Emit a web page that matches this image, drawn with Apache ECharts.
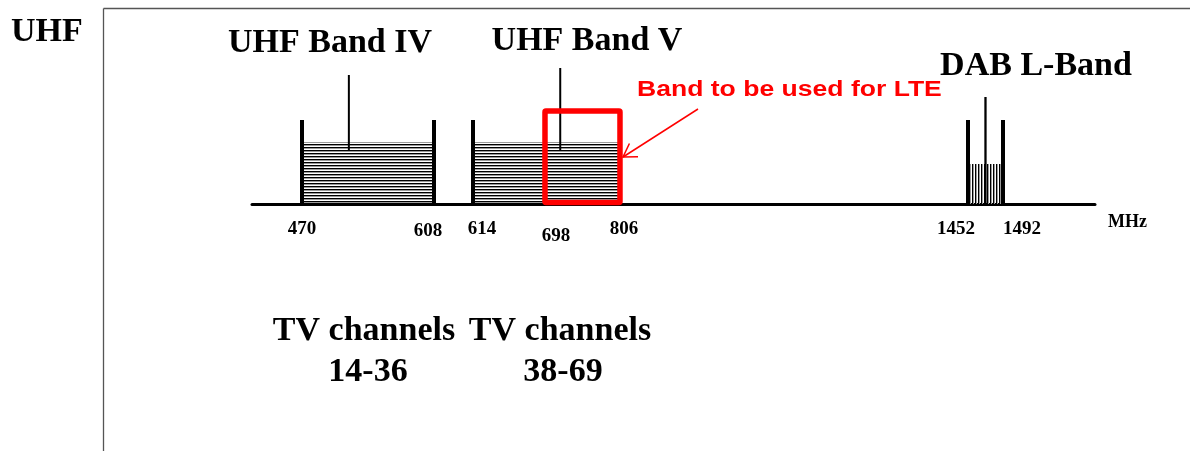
<!DOCTYPE html>
<html><head><meta charset="utf-8">
<script src="https://cdn.jsdelivr.net/npm/echarts@6/dist/echarts.min.js"></script>
<style>html,body{margin:0;padding:0;background:#fff}#c{width:1190px;height:451px}</style>
</head><body><div id="c"></div>
<script>
// ================= DATA =================
const sideTitle = 'UHF';
const axisUnit = 'MHz';
const tickValues = [470, 608, 614, 698, 806, 1452, 1492];
const bandNames = ['UHF Band IV', 'UHF Band V', 'DAB L-Band'];
const bandStart = [470, 614, 1452];
const bandEnd = [608, 806, 1492];
const bandHatchHeight = [62, 62, 40];          // schematic heights
const edgeFreq = [470, 608, 614, 1452, 1492];
const edgeHeight = [84, 84, 84, 84, 84];
const dabCentreFreq = [1472];
const dabCentreHeight = [107];
const pointerFreq = [519, 718];
const pointerLow = [54, 54];
const pointerHigh = [129, 136];
const lteStart = [698];
const lteEnd = [806];
const lteHeight = [93];
const lteLabel = 'Band to be used for LTE';
const channelTitles = ['TV channels', 'TV channels'];
const channelRanges = ['14-36', '38-69'];

// ================= STYLE / LAYOUT =================
const SERIF = '"Liberation Serif","Times New Roman",serif';
const SANS = '"Liberation Sans",Arial,sans-serif';
function makePattern(vertical) {
  const c = document.createElement('canvas');
  c.width = 3; c.height = 3;
  const g = c.getContext('2d');
  g.fillStyle = '#000';
  if (vertical) g.fillRect(0, 0, 1, 3); else g.fillRect(0, 0, 3, 1);
  g.fillStyle = '#9a9a9a';
  if (vertical) g.fillRect(1, 0, 1, 3); else g.fillRect(0, 1, 3, 1);
  return { image: c, repeat: 'repeat' };
}
const hatchStyle = [makePattern(false), makePattern(false), makePattern(true)];
// schematic (not-to-scale) axis: compress / stretch ranges
const axisBreaks = [
  { start: 608, end: 614, gap: 40.77 },
  { start: 620, end: 698, gap: 69.27 },
  { start: 704, end: 806, gap: 72.41 },
  { start: 812, end: 1446, gap: 351.82 },
  { start: 1456, end: 1488, gap: 28.59 }
];
const labelNudge = { 470: [0, 0], 608: [-6, 2], 614: [9, 0], 698: [11, 7], 806: [4, 0], 1452: [-12, 0], 1492: [19, 0] };
const rich = {};
tickValues.forEach((v, i) => {
  const [dx, dy] = labelNudge[v] || [0, 0];
  rich['t' + i] = {
    fontFamily: SERIF, fontWeight: 'bold', fontSize: 19, color: '#000',
    padding: [dy, dx < 0 ? -2 * dx : 0, 0, dx > 0 ? 2 * dx : 0]
  };
});

const chart = echarts.init(document.getElementById('c'), null, { renderer: 'canvas' });

function vline(api, f, h, w) {
  const p0 = api.coord([f, 0]), p1 = api.coord([f, h]);
  return { type: 'line', shape: { x1: p0[0], y1: p0[1], x2: p1[0], y2: p1[1] },
    style: { stroke: '#000', lineWidth: w } };
}

// arrow (annotation)
const aS = [698, 109], aE = [623, 157];
const ang = Math.atan2(aS[1] - aE[1], aS[0] - aE[0]);
const armLen = 15, armA = 32 * Math.PI / 180;
const arm1 = [aE[0] + armLen * Math.cos(ang + armA), aE[1] + armLen * Math.sin(ang + armA)];
const arm2 = [aE[0] + armLen * Math.cos(ang - armA), aE[1] + armLen * Math.sin(ang - armA)];

chart.setOption({
  animation: false,
  backgroundColor: '#fff',
  grid: { left: 252, right: 95, top: 4, bottom: 247, containLabel: false, outerBoundsMode: 'none' },
  xAxis: [{
    type: 'value', min: 417.73, max: 1588.2, position: 'bottom',
    breaks: axisBreaks,
    breakArea: { show: false },
    axisLine: { show: false },
    axisTick: { show: false },
    splitLine: { show: false },
    axisLabel: {
      customValues: tickValues, margin: 16,
      formatter: (v) => '{t' + tickValues.indexOf(v) + '|' + v + '}',
      rich: rich
    }
  }, {
    // continuous base line of the schematic axis
    type: 'value', min: 0, max: 1, position: 'bottom', offset: 0,
    axisLine: { show: true, onZero: false, lineStyle: { color: '#000', width: 3 } },
    axisTick: { show: false }, axisLabel: { show: false }, splitLine: { show: false },
    name: axisUnit, nameLocation: 'end', nameGap: 13,
    nameTextStyle: { fontFamily: SERIF, fontWeight: 'bold', fontSize: 18, color: '#000', verticalAlign: 'top', padding: [9, 0, 0, 0] }
  }],
  yAxis: { type: 'value', min: 0, max: 200, show: false },
  series: [
    { // hatched bands
      type: 'custom', silent: true,
      data: bandStart.map((s, i) => [s, bandEnd[i], bandHatchHeight[i]]),
      renderItem: (params, api) => {
        const p0 = api.coord([api.value(0), 0]), p1 = api.coord([api.value(1), api.value(2)]);
        return { type: 'rect', shape: { x: p0[0], y: p1[1], width: p1[0] - p0[0], height: p0[1] - p1[1] },
          style: { fill: hatchStyle[params.dataIndex] } };
      }
    },
    { // band edge bars
      type: 'custom', silent: true,
      data: edgeFreq.map((f, i) => [f, edgeHeight[i]]),
      renderItem: (params, api) => vline(api, api.value(0), api.value(1), 4)
    },
    { // DAB centre
      type: 'custom', silent: true,
      data: dabCentreFreq.map((f, i) => [f, dabCentreHeight[i]]),
      renderItem: (params, api) => vline(api, api.value(0), api.value(1), 2.3)
    },
    { // title pointers
      type: 'custom', silent: true,
      data: pointerFreq.map((f, i) => [f, pointerLow[i], pointerHigh[i]]),
      renderItem: (params, api) => {
        const p0 = api.coord([api.value(0), api.value(1)]), p1 = api.coord([api.value(0), api.value(2)]);
        return { type: 'line', shape: { x1: p0[0], y1: p0[1], x2: p1[0], y2: p1[1] }, style: { stroke: '#000', lineWidth: 2 } };
      }
    },
    { // LTE box
      type: 'custom', silent: true, z: 5,
      data: lteStart.map((s, i) => [s, lteEnd[i], lteHeight[i]]),
      renderItem: (params, api) => {
        const p0 = api.coord([api.value(0), 0]), p1 = api.coord([api.value(1), api.value(2)]);
        return { type: 'rect', shape: { x: p0[0], y: p1[1], width: p1[0] - p0[0], height: p0[1] - p1[1] - 1.5, r: 1 },
          style: { fill: 'none', stroke: '#ff0000', lineWidth: 5.5 } };
      }
    }
  ],
  graphic: [
    { type: 'line', shape: { x1: 103.5, y1: 8.5, x2: 103.5, y2: 451 }, style: { stroke: '#555', lineWidth: 1.3 } },
    { type: 'line', shape: { x1: 103.5, y1: 8.5, x2: 1190, y2: 8.5 }, style: { stroke: '#555', lineWidth: 1.3 } },
    { type: 'text', x: 11, y: 32, style: { text: sideTitle, font: 'bold 34px ' + SERIF, fill: '#000', align: 'left', verticalAlign: 'middle' } },
    { type: 'text', x: 330, y: 43, style: { text: bandNames[0], font: 'bold 34px ' + SERIF, fill: '#000', align: 'center', verticalAlign: 'middle' } },
    { type: 'text', x: 587, y: 41, style: { text: bandNames[1], font: 'bold 34px ' + SERIF, fill: '#000', align: 'center', verticalAlign: 'middle' } },
    { type: 'text', x: 1036, y: 66, style: { text: bandNames[2], font: 'bold 34px ' + SERIF, fill: '#000', align: 'center', verticalAlign: 'middle' } },
    { type: 'text', x: 637, y: 90, scaleX: 1.18, style: { text: lteLabel, font: 'bold 22.5px ' + SANS, fill: '#ff0000', align: 'left', verticalAlign: 'middle' } },
    { type: 'polyline', shape: { points: [aS, aE] }, style: { stroke: '#ff0000', lineWidth: 1.5 } },
    { type: 'polyline', shape: { points: [arm1, aE, arm2] }, style: { stroke: '#ff0000', lineWidth: 1.5, fill: null } },
    { type: 'text', x: 364, y: 331, style: { text: channelTitles[0], font: 'bold 34px ' + SERIF, fill: '#000', align: 'center', verticalAlign: 'middle' } },
    { type: 'text', x: 560, y: 331, style: { text: channelTitles[1], font: 'bold 34px ' + SERIF, fill: '#000', align: 'center', verticalAlign: 'middle' } },
    { type: 'text', x: 368, y: 372, style: { text: channelRanges[0], font: 'bold 34px ' + SERIF, fill: '#000', align: 'center', verticalAlign: 'middle' } },
    { type: 'text', x: 563, y: 372, style: { text: channelRanges[1], font: 'bold 34px ' + SERIF, fill: '#000', align: 'center', verticalAlign: 'middle' } }
  ]
});
</script>
</body></html>
